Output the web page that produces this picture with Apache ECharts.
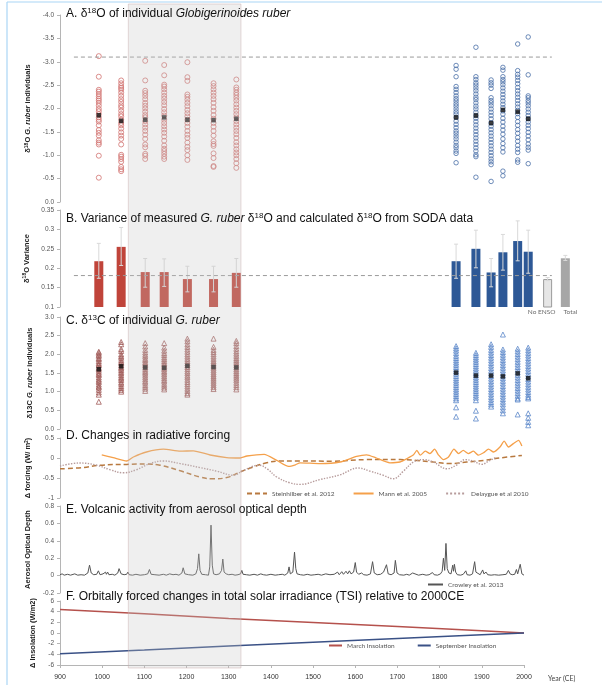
<!DOCTYPE html>
<html><head><meta charset="utf-8">
<script src="https://cdn.jsdelivr.net/npm/echarts@6/dist/echarts.min.js"></script>
<style>html,body{margin:0;padding:0;background:#fff}#c{width:602px;height:685px}</style>
</head><body><div id="c"></div>
<script>
// ---------------- DATA ----------------
const bandYears = [1062, 1329];
const colYearsRed = [992, 1045, 1102, 1147, 1202, 1264, 1318];
const colYearsBlue = [1839, 1886, 1922, 1950, 1985, 2010];

// Panel A: d18O individuals
const d18O_red = [
  [-3.12,-2.68,-2.40,-2.36,-2.31,-2.26,-2.21,-2.17,-2.12,-2.06,-1.99,-1.94,-1.88,-1.81,-1.76,-1.72,-1.64,-1.54,-1.48,-1.42,-1.32,-1.27,-1.23,-0.99,-0.52],
  [-2.60,-2.54,-2.48,-2.44,-2.40,-2.34,-2.27,-2.20,-2.14,-2.07,-2.02,-1.95,-1.88,-1.83,-1.76,-1.69,-1.64,-1.57,-1.49,-1.42,-1.35,-1.23,-1.01,-0.97,-0.92,-0.86,-0.75,-0.70,-0.66],
  [-3.02,-2.60,-2.38,-2.33,-2.27,-2.20,-2.12,-2.06,-2.00,-1.93,-1.86,-1.81,-1.73,-1.66,-1.59,-1.52,-1.44,-1.35,-1.23,-1.17,-1.03,-0.99,-0.92],
  [-2.93,-2.71,-2.51,-2.47,-2.41,-2.34,-2.27,-2.21,-2.14,-2.07,-1.99,-1.92,-1.85,-1.76,-1.69,-1.62,-1.55,-1.48,-1.40,-1.31,-1.21,-1.14,-1.09,-1.03,-0.97,-0.92],
  [-2.99,-2.67,-2.59,-2.30,-2.25,-2.19,-2.12,-2.05,-1.97,-1.90,-1.83,-1.76,-1.69,-1.61,-1.52,-1.44,-1.37,-1.27,-1.18,-1.11,-1.00,-0.90],
  [-2.54,-2.48,-2.41,-2.34,-2.27,-2.20,-2.12,-2.03,-1.95,-1.86,-1.78,-1.69,-1.61,-1.52,-1.42,-1.30,-1.24,-1.20,-1.04,-0.94,-0.77,-0.75],
  [-2.62,-2.45,-2.40,-2.34,-2.29,-2.23,-2.17,-2.09,-2.02,-1.95,-1.88,-1.81,-1.73,-1.66,-1.59,-1.52,-1.45,-1.37,-1.28,-1.21,-1.13,-1.06,-1.00,-0.92,-0.83,-0.73]
];
const d18O_blue = [
  [-2.92,-2.84,-2.68,-2.47,-2.41,-2.34,-2.27,-2.21,-2.16,-2.10,-2.05,-1.99,-1.93,-1.88,-1.81,-1.73,-1.66,-1.59,-1.52,-1.47,-1.41,-1.35,-1.28,-1.21,-1.16,-1.09,-1.04,-0.84],
  [-3.31,-2.68,-2.62,-2.55,-2.50,-2.44,-2.38,-2.31,-2.24,-2.19,-2.12,-2.05,-1.99,-1.92,-1.85,-1.79,-1.72,-1.65,-1.58,-1.51,-1.44,-1.37,-1.30,-1.23,-1.16,-1.09,-1.01,-0.97,-0.53],
  [-2.61,-2.55,-2.50,-2.43,-2.23,-2.17,-2.12,-2.06,-1.99,-1.92,-1.85,-1.78,-1.69,-1.62,-1.55,-1.48,-1.41,-1.34,-1.27,-1.20,-1.13,-1.06,-0.99,-0.92,-0.86,-0.80,-0.44],
  [-2.88,-2.82,-2.68,-2.62,-2.57,-2.51,-2.44,-2.37,-2.30,-2.23,-2.16,-2.09,-2.02,-1.95,-1.88,-1.79,-1.71,-1.62,-1.54,-1.45,-1.35,-1.25,-1.16,-1.07,-0.66,-0.56],
  [-3.38,-2.81,-2.73,-2.67,-2.60,-2.53,-2.45,-2.38,-2.31,-2.24,-2.17,-2.10,-2.03,-1.96,-1.89,-1.81,-1.72,-1.64,-1.55,-1.47,-1.38,-1.30,-1.21,-1.13,-1.06,-0.90,-0.85],
  [-3.53,-2.72,-2.27,-2.23,-2.17,-2.12,-2.06,-1.99,-1.92,-1.85,-1.78,-1.71,-1.64,-1.57,-1.49,-1.41,-1.33,-1.24,-1.17,-1.11,-0.82]
];
const d18O_red_mean = [-1.855, -1.735, -1.76, -1.81, -1.76, -1.75, -1.78];
const d18O_blue_mean = [-1.81, -1.85, -1.69, -1.97, -1.93, -1.78];
const d18O_refLine = -3.1;
const refLineYears = [933, 2066];

// Panel B: variance
const var_red = [0.218, 0.255, 0.19, 0.19, 0.172, 0.172, 0.188];
const var_red_hi = [0.264, 0.305, 0.225, 0.224, 0.205, 0.205, 0.225];
const var_red_lo = [0.174, 0.207, 0.151, 0.153, 0.139, 0.139, 0.151];
const var_blue = [0.218, 0.25, 0.189, 0.241, 0.27, 0.2425];
const var_blue_hi = [0.262, 0.298, 0.225, 0.287, 0.322, 0.298];
const var_blue_lo = [0.174, 0.201, 0.152, 0.195, 0.219, 0.187];
const soda_years = [2056, 2098];
const soda_labels = ['No ENSO', 'Total'];
const var_soda = [0.172, 0.2255];
const var_soda_hi = [0.176, 0.233];
const var_soda_lo = [0.168, 0.22];
const var_refLine = 0.181;

// Panel C: d13C individuals
const d13C_red = [
  [2.07,2.04,1.99,1.96,1.90,1.87,1.82,1.77,1.73,1.70,1.64,1.61,1.56,1.51,1.47,1.44,1.38,1.33,1.29,1.25,1.19,1.14,1.11,1.05,0.98,0.92,0.73],
  [2.33,2.27,2.14,2.09,2.00,1.95,1.91,1.85,1.80,1.77,1.71,1.66,1.62,1.58,1.53,1.49,1.44,1.39,1.35,1.31,1.25,1.21,1.15,1.10,1.05,1.00],
  [2.30,2.21,2.12,2.05,1.99,1.94,1.88,1.84,1.79,1.75,1.71,1.66,1.61,1.56,1.52,1.48,1.43,1.38,1.33,1.28,1.24,1.18,1.13,1.08,1.02],
  [2.30,2.18,2.10,2.03,1.98,1.92,1.87,1.82,1.77,1.73,1.69,1.64,1.60,1.55,1.51,1.46,1.41,1.36,1.31,1.27,1.21,1.16,1.11,1.06],
  [2.42,2.35,2.27,2.20,2.13,2.07,2.00,1.94,1.88,1.82,1.76,1.71,1.66,1.60,1.54,1.49,1.43,1.38,1.32,1.26,1.20,1.14,1.08,1.02,0.96,0.92],
  [2.42,2.20,2.12,2.06,2.00,1.94,1.88,1.82,1.77,1.72,1.67,1.62,1.57,1.52,1.47,1.42,1.37,1.32,1.27,1.22,1.17,1.12,1.07],
  [2.36,2.30,2.22,2.15,2.08,2.02,1.96,1.90,1.85,1.80,1.75,1.70,1.65,1.60,1.55,1.50,1.45,1.40,1.35,1.30,1.24,1.18,1.12,1.06]
];
const d13C_blue = [
  [2.22,2.16,2.10,2.03,1.96,1.90,1.84,1.78,1.72,1.66,1.60,1.54,1.48,1.42,1.36,1.30,1.24,1.18,1.12,1.06,1.00,0.94,0.88,0.82,0.77,0.58,0.33],
  [2.04,1.98,1.92,1.86,1.80,1.74,1.68,1.62,1.56,1.50,1.44,1.38,1.32,1.26,1.20,1.14,1.08,1.02,0.96,0.90,0.84,0.77,0.49,0.28],
  [2.27,2.20,2.12,2.05,1.98,1.91,1.84,1.77,1.70,1.63,1.56,1.49,1.42,1.35,1.28,1.21,1.14,1.07,1.00,0.93,0.86,0.79,0.72,0.66,0.60],
  [2.53,2.13,2.06,1.99,1.92,1.85,1.78,1.71,1.64,1.57,1.50,1.43,1.36,1.29,1.22,1.15,1.08,1.01,0.94,0.87,0.80,0.73,0.66,0.58,0.50,0.42],
  [2.15,2.08,2.01,1.94,1.87,1.80,1.73,1.66,1.59,1.52,1.45,1.38,1.31,1.24,1.17,1.10,1.03,0.96,0.89,0.82,0.79,0.39],
  [2.18,2.11,2.04,1.97,1.90,1.83,1.76,1.69,1.62,1.55,1.48,1.41,1.34,1.27,1.20,1.13,1.06,0.99,0.92,0.86,0.82,0.42,0.30,0.19,0.10]
];
const d13C_red_mean = [1.60, 1.68, 1.65, 1.64, 1.69, 1.66, 1.65];
const d13C_blue_mean = [1.51, 1.43, 1.43, 1.41, 1.49, 1.36];

// Panel D: radiative forcing
const steinYears = [900,955,995,1058,1105,1137,1185,1232,1264,1295,1327,1358,1390,1421,1469,1548,1627,1706,1746,1785,1825,1864,1904,1943,1995];
const steinVals  = [-0.27,-0.24,-0.18,-0.16,-0.15,-0.18,-0.32,-0.475,-0.52,-0.49,-0.35,-0.225,-0.12,-0.075,-0.075,-0.08,-0.04,-0.04,-0.06,-0.1,-0.14,-0.1,-0.06,0,0.065];
const mannYears = [999,1026,1058,1074,1105,1145,1185,1216,1256,1295,1327,1343,1384,1414,1442,1458,1469,1516,1564,1603,1627,1650,1682,1706,1722,1738,1746,1754,1766,1777,1788,1797,1809,1821,1834,1845,1856,1868,1880,1892,1904,1916,1928,1943,1953,1963,1975,1987,1995];
const mannVals  = [0.08,0.01,-0.075,0.025,0.15,0.22,0.17,0.18,0.075,0.01,0,0.05,0.09,-0.06,-0.21,-0.17,-0.12,-0.14,-0.1,0.04,0.08,0,-0.12,-0.1,-0.02,0.08,0.19,0.07,0.17,0.11,0.22,0.08,-0.04,0.025,0.22,0.11,0.19,0.11,0.17,0.07,0.13,0.22,0.15,0.275,0.42,0.275,0.36,0.44,0.3];
const delYears = [900,947,987,1018,1050,1082,1113,1145,1185,1232,1272,1311,1335,1372,1392,1414,1445,1469,1516,1564,1607,1635,1666,1690,1714,1738,1762,1785,1817,1841,1860,1880,1900,1916,1935];
const delVals  = [-0.2,-0.125,-0.18,-0.29,-0.37,-0.29,-0.14,-0.075,-0.14,-0.24,-0.33,-0.43,-0.31,-0.18,-0.28,-0.475,-0.62,-0.66,-0.54,-0.42,-0.25,-0.33,-0.43,-0.52,-0.33,-0.1,-0.04,-0.1,-0.27,-0.17,-0.04,-0.08,-0.16,-0.08,0.025];

// Panel E: aerosol optical depth
const volcYears = [900,905,910,918,925,935,942,950,958,966,970,974,980,987,991,995,1002,1008,1010,1013,1016,1024,1030,1037,1040,1045,1052,1058,1061,1064,1072,1080,1090,1100,1108,1112,1116,1125,1135,1145,1152,1160,1168,1175,1182,1189,1192,1196,1205,1215,1222,1226,1229,1232,1236,1245,1252,1255,1258,1261,1264,1267,1270,1278,1283,1286,1289,1294,1300,1308,1315,1322,1328,1331,1334,1338,1342,1350,1360,1368,1376,1382,1390,1400,1410,1418,1427,1433,1440,1443,1446,1452,1456,1459,1462,1470,1478,1486,1495,1504,1512,1520,1530,1540,1550,1558,1562,1568,1572,1578,1582,1586,1590,1596,1600,1603,1608,1615,1620,1628,1636,1641,1645,1652,1660,1667,1671,1674,1678,1685,1692,1695,1699,1705,1715,1722,1728,1736,1740,1750,1760,1768,1775,1783,1787,1795,1802,1806,1809,1812,1815,1818,1822,1827,1831,1833,1835,1838,1842,1850,1856,1862,1865,1872,1878,1883,1886,1890,1896,1902,1905,1910,1914,1922,1930,1940,1950,1958,1963,1967,1972,1978,1982,1985,1988,1991,1995,2000];
const volcVals  = [0.01,0.02,0.005,0.015,0.005,0.02,0.005,0.01,0.005,0.03,0.12,0.03,0.01,0.015,0.055,0.01,0.02,0.04,0.015,0.04,0.01,0.015,0.005,0.03,0.08,0.02,0.01,0.015,0.04,0.01,0.005,0.015,0.005,0.01,0.02,0.07,0.015,0.01,0.005,0.015,0.005,0.02,0.01,0.015,0.005,0.03,0.09,0.02,0.01,0.005,0.02,0.08,0.25,0.06,0.015,0.01,0.005,0.1,0.58,0.12,0.02,0.04,0.01,0.02,0.06,0.19,0.04,0.02,0.01,0.015,0.005,0.01,0.02,0.06,0.015,0.03,0.01,0.005,0.015,0.005,0.02,0.01,0.005,0.015,0.005,0.01,0.015,0.005,0.03,0.1,0.02,0.04,0.27,0.08,0.02,0.01,0.005,0.015,0.005,0.01,0.015,0.005,0.02,0.01,0.015,0.04,0.01,0.045,0.015,0.05,0.02,0.055,0.02,0.04,0.15,0.04,0.015,0.03,0.01,0.005,0.02,0.16,0.03,0.01,0.015,0.04,0.02,0.125,0.02,0.01,0.03,0.175,0.03,0.01,0.005,0.015,0.005,0.03,0.01,0.005,0.015,0.005,0.01,0.035,0.01,0.005,0.02,0.05,0.2,0.06,0.37,0.08,0.03,0.02,0.12,0.05,0.13,0.04,0.01,0.005,0.015,0.055,0.01,0.005,0.02,0.16,0.04,0.02,0.01,0.065,0.02,0.04,0.01,0.005,0.01,0.005,0.01,0.015,0.06,0.02,0.01,0.015,0.07,0.02,0.02,0.13,0.02,0.005];

// Panel F: orbital insolation
const insYears = [900, 1100, 1300, 1500, 1700, 1900, 2000];
const marchIns = [4.4, 3.6, 2.7, 1.95, 1.2, 0.4, 0];
const septIns  = [-3.9, -3.2, -2.45, -1.75, -1.05, -0.35, 0];

// ---------------- CHART ----------------
const FONT = 'Liberation Sans';
const chart = echarts.init(document.getElementById('c'), null, {renderer: 'canvas'});
const wideW = 464 * 1220 / 1100;
const grids = [
  {left: 60, top: 15, width: wideW, height: 187},
  {left: 60, top: 210, width: wideW, height: 97},
  {left: 60, top: 317, width: wideW, height: 112},
  {left: 60, top: 438, width: wideW, height: 60},
  {left: 60, top: 506, width: wideW, height: 87},
  {left: 60, top: 601, width: 464, height: 64}
];
function colData(years, cols) {
  const out = [];
  cols.forEach((arr, i) => arr.forEach(v => out.push([years[i], v])));
  return out;
}
function zip(xs, ys) { return xs.map((x, i) => [x, ys[i]]); }

function yAx(i, o) {
  return Object.assign({
    gridIndex: i, type: 'value', nameLocation: 'middle', nameGap: 19,
    axisLine: {show: true, lineStyle: {color: '#b5b5b5'}},
    axisTick: {show: true, length: 3, lineStyle: {color: '#b5b5b5'}},
    splitLine: {show: false},
    axisLabel: {fontSize: 6.5, color: '#555', margin: 6, fontFamily: FONT},
    nameTextStyle: {fontSize: 7.5, fontWeight: 'bold', color: '#222', fontFamily: FONT,
      rich: {
        b: {fontSize: 7.5, fontWeight: 'bold', color: '#222', fontFamily: FONT},
        bs: {fontSize: 5, fontWeight: 'bold', color: '#222', fontFamily: FONT, padding: [0, 0, 3, 0]},
        bi: {fontSize: 7.5, fontWeight: 'bold', fontStyle: 'italic', color: '#222', fontFamily: FONT}
      }}
  }, o);
}
const xAxes = [0,1,2,3,4].map(i => ({gridIndex: i, type: 'value', min: 900, max: 2120, show: false}));
xAxes.push({gridIndex: 5, type: 'value', min: 900, max: 2000, interval: 100,
  axisLine: {show: true, onZero: false, lineStyle: {color: '#b5b5b5'}},
  axisTick: {show: true, length: 3, lineStyle: {color: '#b5b5b5'}},
  splitLine: {show: false},
  axisLabel: {fontSize: 7, color: '#333', margin: 9, fontFamily: FONT, formatter: v => String(v)}});

const yAxes = [
  yAx(0, {inverse: true, min: -4, max: 0, interval: 0.5, axisLabel: {fontSize: 6.5, color: '#555', margin: 6, fontFamily: FONT, formatter: v => v.toFixed(1)},
    name: '{b|δ}{bs|18}{b|O }{bi|G. ruber}{b| individuals}'}),
  yAx(1, {min: 0.1, max: 0.35, interval: 0.05, name: '{b|δ}{bs|18}{b|O Variance}'}),
  yAx(2, {min: 0, max: 3, interval: 0.5, axisLabel: {fontSize: 6.5, color: '#555', margin: 6, fontFamily: FONT, formatter: v => v.toFixed(1)},
    name: '{b|δ13C }{bi|G. ruber}{b| individuals}'}),
  yAx(3, {min: -1, max: 0.5, interval: 0.5, name: '{b|Δ forcing (W/ m}{bs|2}{b|)}'}),
  yAx(4, {min: -0.2, max: 0.8, interval: 0.2, name: '{b|Aerosol Optical Depth}'}),
  yAx(5, {min: -6, max: 6, interval: 2, name: '{b|Δ Insolation (W/m2)}'})
];

const titleRich = {
  n: {fontSize: 12, color: '#111', fontFamily: FONT},
  sup: {fontSize: 8, color: '#111', fontFamily: FONT, padding: [0, 0, 5, 0]},
  it: {fontSize: 12, color: '#111', fontFamily: FONT, fontStyle: 'italic'}
};
function ttl(text, top) {
  return {text: text, left: 66, top: top, padding: 0, textStyle: {fontSize: 12, fontWeight: 'normal', color: '#111', fontFamily: FONT, rich: titleRich}};
}
const titles = [
  ttl('{n|A. δ}{sup|18}{n|O of individual }{it|Globigerinoides ruber}', 7),
  ttl('{n|B. Variance of measured }{it|G. ruber}{n| δ}{sup|18}{n|O and calculated δ}{sup|18}{n|O from SODA data}', 212),
  ttl('{n|C. δ}{sup|13}{n|C of individual }{it|G. ruber}', 314),
  ttl('{n|D. Changes in radiative forcing}', 430),
  ttl('{n|E. Volcanic activity from aerosol optical depth}', 504),
  ttl('{n|F. Orbitally forced changes in total solar irradiance (TSI) relative to 2000CE}', 591)
];

// bar data
const barData = [];
var_red.forEach((v, i) => barData.push({value: [colYearsRed[i], v], itemStyle: {color: '#c0443a'}}));
var_blue.forEach((v, i) => barData.push({value: [colYearsBlue[i], v], itemStyle: {color: '#2d5896'}}));
var_soda.forEach((v, i) => barData.push({value: [soda_years[i], v], itemStyle: i === 0 ? {color: '#e6e6e6', borderColor: '#9a9a9a', borderWidth: 1} : {color: '#a6a6a6'}}));
const errData = [];
var_red.forEach((v, i) => errData.push([colYearsRed[i], var_red_lo[i], var_red_hi[i]]));
var_blue.forEach((v, i) => errData.push([colYearsBlue[i], var_blue_lo[i], var_blue_hi[i]]));
var_soda.forEach((v, i) => errData.push([soda_years[i], var_soda_lo[i], var_soda_hi[i]]));
const sodaLabelOffsets = [[-6, 0], [5, 0]];

const legText = {fontSize: 6.5, color: '#555', fontFamily: 'Lato'};
const legHideSym = {opacity: 0};

const series = [
  // Panel A
  {type: 'scatter', xAxisIndex: 0, yAxisIndex: 0, symbol: 'circle', symbolSize: 5,
   itemStyle: {color: 'rgba(255,255,255,0)', borderColor: '#d27370', borderWidth: 1},
   data: colData(colYearsRed, d18O_red), z: 2},
  {type: 'scatter', xAxisIndex: 0, yAxisIndex: 0, symbol: 'circle', symbolSize: 4.5,
   itemStyle: {color: 'rgba(255,255,255,0)', borderColor: '#4a6fa8', borderWidth: 1},
   data: colData(colYearsBlue, d18O_blue), z: 2},
  {type: 'scatter', xAxisIndex: 0, yAxisIndex: 0, symbol: 'rect', symbolSize: 4.5,
   itemStyle: {color: '#111'}, z: 3,
   data: zip(colYearsRed, d18O_red_mean).concat(zip(colYearsBlue, d18O_blue_mean))},
  {type: 'line', xAxisIndex: 0, yAxisIndex: 0, symbol: 'none', silent: true,
   lineStyle: {color: '#9a9a9a', width: 1, type: [4, 3]},
   data: refLineYears.map(y => [y, d18O_refLine])},
  // Panel B
  {type: 'bar', xAxisIndex: 1, yAxisIndex: 1, barWidth: 9, data: barData},
  {type: 'custom', xAxisIndex: 1, yAxisIndex: 1, data: errData, z: 3,
   encode: {x: 0, y: [1, 2]},
   renderItem: function (params, api) {
     const x = api.value(0);
     const p1 = api.coord([x, api.value(1)]);
     const p2 = api.coord([x, api.value(2)]);
     const st = {stroke: '#d9d9d9', lineWidth: 1};
     return {type: 'group', children: [
       {type: 'line', shape: {x1: p1[0], y1: p1[1], x2: p2[0], y2: p2[1]}, style: st},
       {type: 'line', shape: {x1: p1[0] - 2, y1: p1[1], x2: p1[0] + 2, y2: p1[1]}, style: st},
       {type: 'line', shape: {x1: p2[0] - 2, y1: p2[1], x2: p2[0] + 2, y2: p2[1]}, style: st}
     ]};
   }},
  {type: 'line', xAxisIndex: 1, yAxisIndex: 1, symbol: 'none', silent: true, z: 4,
   lineStyle: {color: '#9a9a9a', width: 1, type: [4, 3]},
   data: refLineYears.map(y => [y, var_refLine])},
  {type: 'scatter', xAxisIndex: 1, yAxisIndex: 1, symbolSize: 0, clip: false,
   data: soda_years.map((y, i) => ({value: [y, 0.1], name: soda_labels[i], label: {offset: sodaLabelOffsets[i]}})),
   label: {show: true, position: 'bottom', distance: 1, formatter: p => p.name, fontSize: 6.5, color: '#444', fontFamily: 'Lato'}},
  // Panel C
  {type: 'scatter', xAxisIndex: 2, yAxisIndex: 2, symbol: 'triangle', symbolSize: 5,
   itemStyle: {color: 'rgba(255,255,255,0)', borderColor: '#a05a58', borderWidth: 1},
   data: colData(colYearsRed, d13C_red)},
  {type: 'scatter', xAxisIndex: 2, yAxisIndex: 2, symbol: 'triangle', symbolSize: 5,
   itemStyle: {color: 'rgba(255,255,255,0)', borderColor: '#5b87c9', borderWidth: 1},
   data: colData(colYearsBlue, d13C_blue)},
  {type: 'scatter', xAxisIndex: 2, yAxisIndex: 2, symbol: 'rect', symbolSize: 4.5,
   itemStyle: {color: '#111'}, z: 3,
   data: zip(colYearsRed, d13C_red_mean).concat(zip(colYearsBlue, d13C_blue_mean))},
  // Panel D
  {name: 'Steinhilber et al. 2012', type: 'line', xAxisIndex: 3, yAxisIndex: 3, symbol: 'none', smooth: 0.4,
   lineStyle: {color: '#b8793f', width: 1.5, type: [5, 3]}, itemStyle: {color: '#b8793f'},
   data: zip(steinYears, steinVals)},
  {name: 'Mann et al. 2005', type: 'line', xAxisIndex: 3, yAxisIndex: 3, symbol: 'none', smooth: 0.2,
   lineStyle: {color: '#f5a04a', width: 1.3}, itemStyle: {color: '#f5a04a'},
   data: zip(mannYears, mannVals)},
  {name: 'Delaygue et al 2010', type: 'line', xAxisIndex: 3, yAxisIndex: 3, symbol: 'none', smooth: 0.4,
   lineStyle: {color: '#b79c9c', width: 1.4, type: 'dotted'}, itemStyle: {color: '#b79c9c'},
   data: zip(delYears, delVals)},
  // Panel E
  {name: 'Crowley et al. 2013', type: 'line', xAxisIndex: 4, yAxisIndex: 4, symbol: 'none',
   lineStyle: {color: '#555', width: 1}, itemStyle: {color: '#555'},
   data: zip(volcYears, volcVals)},
  // Panel F
  {name: 'March Insolation', type: 'line', xAxisIndex: 5, yAxisIndex: 5, symbol: 'none',
   lineStyle: {color: '#b5514c', width: 1.5}, itemStyle: {color: '#b5514c'},
   data: zip(insYears, marchIns)},
  {name: 'September Insolation', type: 'line', xAxisIndex: 5, yAxisIndex: 5, symbol: 'none',
   lineStyle: {color: '#3a5186', width: 1.5}, itemStyle: {color: '#3a5186'},
   data: zip(insYears, septIns)}
];

chart.setOption({
  animation: false,
  backgroundColor: '#fff',
  title: titles,
  grid: grids,
  xAxis: xAxes,
  yAxis: yAxes,
  legend: [
    {data: ['Steinhilber et al. 2012', 'Mann et al. 2005', 'Delaygue et al 2010'], left: 246, top: 490, padding: 0,
     itemWidth: 20, itemHeight: 6, itemGap: 18, selectedMode: false, textStyle: legText, itemStyle: legHideSym},
    {data: ['Crowley et al. 2013'], left: 427, top: 581, padding: 0,
     itemWidth: 15, itemHeight: 6, selectedMode: false, textStyle: legText, itemStyle: legHideSym},
    {data: ['March Insolation', 'September Insolation'], left: 328, top: 642, padding: 0,
     itemWidth: 13, itemHeight: 6, itemGap: 22, selectedMode: false, textStyle: legText, itemStyle: legHideSym}
  ],
  series: series
});

const bx1 = chart.convertToPixel({xAxisIndex: 0}, bandYears[0]);
const bx2 = chart.convertToPixel({xAxisIndex: 0}, bandYears[1]);
chart.setOption({
  graphic: [
    {type: 'rect', z: 5, silent: true, shape: {x: bx1, y: 4, width: bx2 - bx1, height: 664},
     style: {fill: 'rgba(196,196,196,0.28)', stroke: 'rgba(200,170,170,0.45)', lineWidth: 1}},
    {type: 'line', z: 7, shape: {x1: 7, y1: 2, x2: 602, y2: 2}, style: {stroke: '#aad6f5', lineWidth: 1.2}},
    {type: 'line', z: 7, shape: {x1: 7, y1: 2, x2: 7, y2: 685}, style: {stroke: '#aad6f5', lineWidth: 1.2}},
    {type: 'text', z: 7, x: 548, y: 675, style: {text: 'Year (CE)', fontSize: 7, fill: '#444', fontFamily: 'Lato'}}
  ]
});
</script></body></html>
